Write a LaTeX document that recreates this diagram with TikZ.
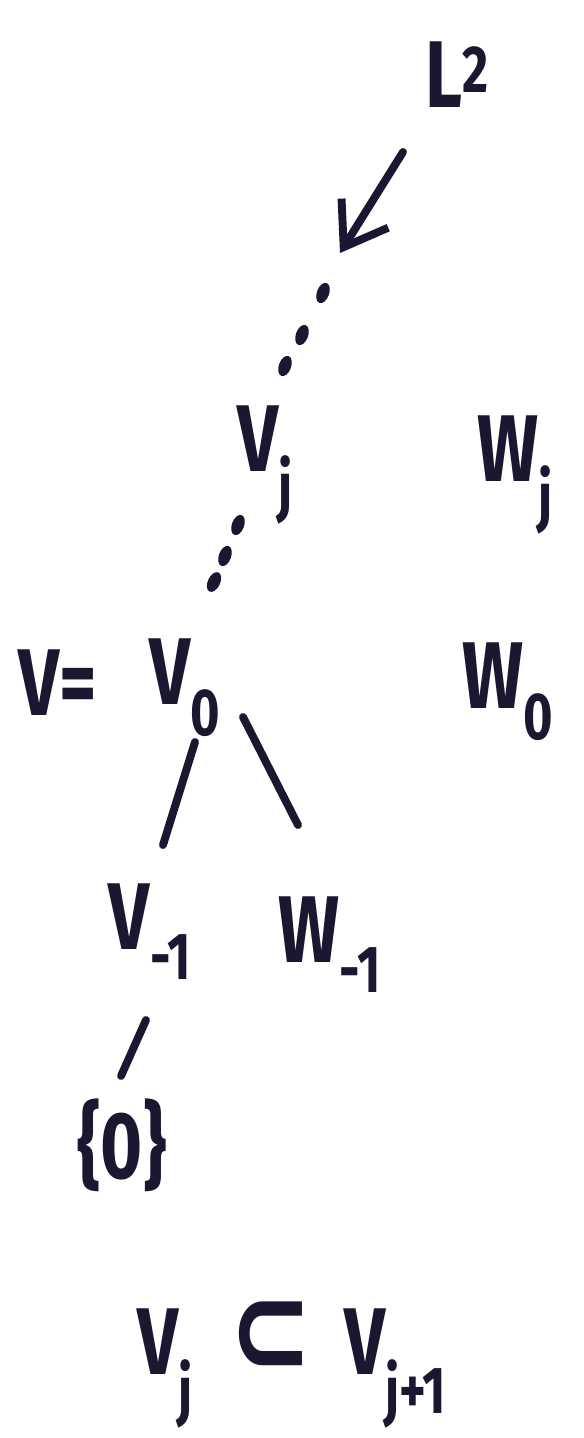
\documentclass[tikz,border=0pt]{standalone}
\usepackage{fontspec}
\setmainfont{Fira Sans}
\newfontfamily\symfont{DejaVu Sans}
\usetikzlibrary{arrows.meta}
\definecolor{ink}{RGB}{28,22,48}
\tikzset{
  sym/.style={text=ink, font=\bfseries\fontsize{54}{64}\selectfont, xscale=0.76, inner sep=0pt},
  stroke/.style={draw=ink, line width=4.5pt, line cap=round},
  dot/.style={fill=ink},
}
\begin{document}
\begin{tikzpicture}[x=0.02cm,y=-0.02cm]
\useasboundingbox (0,0) rectangle (584,1438);

\node[sym] (L2) at (457,75) {L\textsuperscript{2}};
\node[sym] (Vj) at (265,465) {V\textsubscript{j}};
\node[sym] (Wj) at (515,475) {W\textsubscript{j}};
\node[sym] (V) at (58,683) {V=};
\node[sym] (V0) at (185,688) {V\textsubscript{0}};
\node[sym] (W0) at (508,692) {W\textsubscript{0}};
\node[sym] (Vm1) at (150,932) {V\textsubscript{-1}};
\node[sym] (Wm1) at (330,945) {W\textsubscript{-1}};
\node[sym] (zero) at (122,1145) {\{0\}};
\node[sym] (incl) at (292,1365) {V\textsubscript{j}\hspace{0.5em}{\symfont\bfseries\fontsize{74}{74}\selectfont ⊂}\hspace{0.45em}V\textsubscript{j+1}};

\coordinate (A1) at (403,152);
\coordinate (A2) at (340,253);
\coordinate (P1) at (195,742);
\coordinate (P2) at (163,845);
\coordinate (Q1) at (243,717);
\coordinate (Q2) at (298,825);
\coordinate (R1) at (146,1020);
\coordinate (R2) at (121,1076);

\draw[stroke, -{Straight Barb[length=0.8cm,width=1.1cm,line width=4.5pt]}] (A1) -- (A2);
\draw[stroke] (P1) -- (P2);
\draw[stroke] (Q1) -- (Q2);
\draw[stroke] (R1) -- (R2);

\fill[dot, rotate around={-20:(323,293)}] (323,293) ellipse (3.5pt and 6pt);
\fill[dot, rotate around={-20:(302,335)}] (302,335) ellipse (3.5pt and 6pt);
\fill[dot, rotate around={-20:(285,366)}] (285,366) ellipse (3.5pt and 6pt);
\fill[dot, rotate around={-20:(238,525)}] (238,525) ellipse (3.5pt and 6pt);
\fill[dot, rotate around={-20:(225,556)}] (225,556) ellipse (3.5pt and 6pt);
\fill[dot, rotate around={-25:(214,582)}] (214,582) ellipse (3.5pt and 6pt);
\end{tikzpicture}
\end{document}
